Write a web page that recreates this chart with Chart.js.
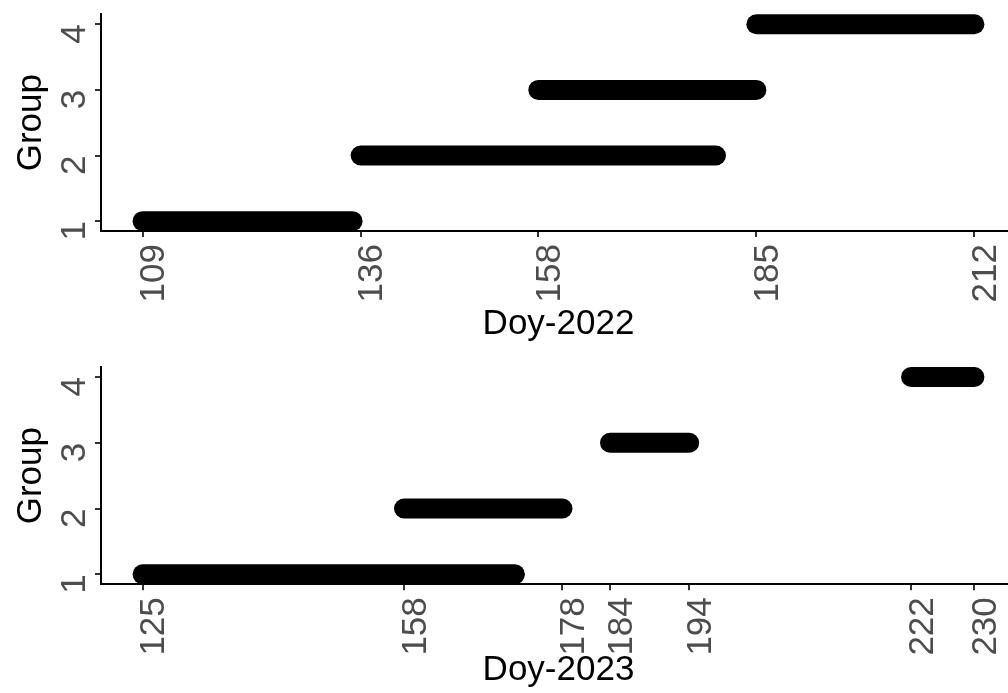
<!DOCTYPE html>
<html>
<head>
<meta charset="utf-8">
<script src="https://cdn.jsdelivr.net/npm/chart.js@4/dist/chart.umd.min.js"></script>
<style>
  html, body { margin: 0; padding: 0; background: #fff; overflow: hidden; }
  canvas { display: block; }
</style>
</head>
<body>
<canvas id="chart2022" width="1016" height="347"></canvas>
<canvas id="chart2023" width="1016" height="346"></canvas>
<script>
// groups on the y axis
const groups = [1, 2, 3, 4];

// 2022: start / end day-of-year per group
const start2022 = [109, 136, 158, 185];
const end2022 = [135, 180, 185, 212];
const ticks2022 = [109, 136, 158, 185, 212];

// 2023
const start2023 = [125, 158, 184, 222];
const end2023 = [172, 178, 194, 230];
const ticks2023 = [125, 158, 178, 184, 194, 222, 230];

const font = 'Liberation Sans, Arial, Helvetica, sans-serif';

function makeChart(id, starts, ends, xTicks, title, padTop, axisHeight) {
    const lo = xTicks[0], hi = xTicks[xTicks.length - 1];
    const pad = (hi - lo) * 0.05;

    const datasets = groups.map((g, i) => ({
        data: [{ x: starts[i], y: g }, { x: ends[i], y: g }],
        showLine: true,
        borderColor: '#000',
        borderWidth: 20,
        borderCapStyle: 'round',
        pointRadius: 0,
        clip: false
    }));

    return new Chart(document.getElementById(id), {
        type: 'scatter',
        data: { datasets: datasets },
        options: {
            responsive: false,
            animation: false,
            layout: { padding: { top: padTop, left: 0, right: 0, bottom: 0 } },
            plugins: {
                legend: { display: false },
                tooltip: { enabled: false }
            },
            scales: {
                x: {
                    type: 'linear',
                    min: lo - pad,
                    max: hi + pad,
                    afterBuildTicks: (s) => { s.ticks = xTicks.map(v => ({ value: v })); },
                    afterFit: (s) => { s.height = axisHeight; s.paddingLeft = 0; s.paddingRight = 0; },
                    grid: { display: true, drawOnChartArea: false, drawTicks: true, tickLength: 6, color: '#333', lineWidth: 2 },
                    border: { display: true, color: '#000', width: 2 },
                    ticks: {
                        color: '#4d4d4d',
                        font: { family: font, size: 35, lineHeight: 1.2 },
                        minRotation: 90,
                        maxRotation: 90,
                        padding: 7,
                        labelOffset: 12,
                        autoSkip: false
                    },
                    title: {
                        display: true,
                        text: title,
                        color: '#000',
                        font: { family: font, size: 35, lineHeight: 1.2 },
                        padding: { top: 0, bottom: 2 }
                    }
                },
                y: {
                    type: 'linear',
                    min: 0.85,
                    max: 4.15,
                    afterBuildTicks: (s) => { s.ticks = groups.map(v => ({ value: v })); },
                    afterFit: (s) => { s.width = 101; s.paddingTop = 0; s.paddingBottom = 0; },
                    grid: { display: true, drawOnChartArea: false, drawTicks: true, tickLength: 6, color: '#333', lineWidth: 2 },
                    border: { display: true, color: '#000', width: 2 },
                    ticks: {
                        color: '#4d4d4d',
                        font: { family: font, size: 35, lineHeight: 1.2 },
                        minRotation: 90,
                        maxRotation: 90,
                        padding: 20
                    },
                    title: {
                        display: true,
                        text: 'Group',
                        color: '#000',
                        font: { family: font, size: 35, lineHeight: 1.2 },
                        padding: { top: 10, bottom: 0 }
                    }
                }
            }
        }
    });
}

makeChart('chart2022', start2022, end2022, ticks2022, 'Doy-2022', 14.4, 116);
makeChart('chart2023', start2023, end2023, ticks2023, 'Doy-2023', 20.1, 108.8);
</script>
</body>
</html>
